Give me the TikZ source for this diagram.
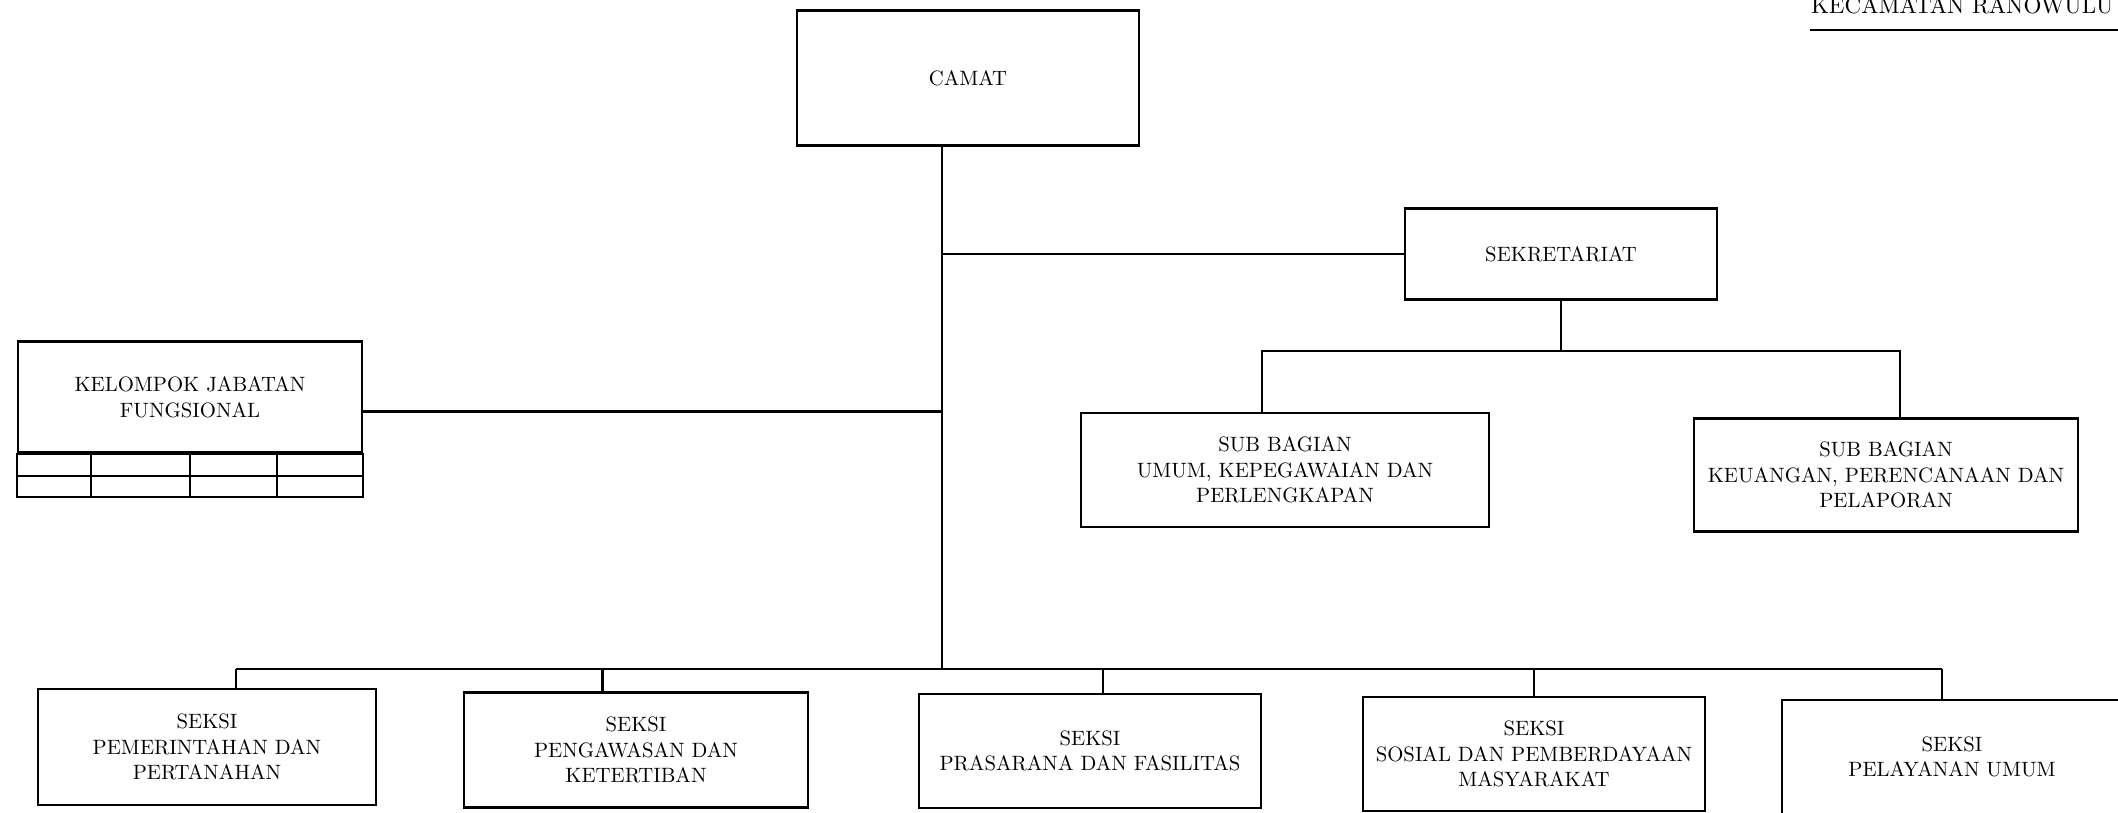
\documentclass[tikz,border=0pt]{standalone}
\usepackage{fontspec}
\setmainfont{lmroman10-regular.otf}
\begin{document}
\begin{tikzpicture}[x=0.01cm,y=-0.01cm,line width=0.6pt,
unit/.style 2 args={draw,minimum width=#1cm,minimum height=#2cm,inner sep=0pt,align=center,font=\fontsize{5.9}{7.3}\selectfont}]
\useasboundingbox (0,0) rectangle (2118,813);
\node[anchor=base west,font=\fontsize{6.55}{8}\selectfont,inner sep=0pt](kec) at (1810,14) {KECAMATAN RANOWULU};
\draw[line width=0.8pt](kec.west |- 0,30)--++(330,0);
\node[unit={3.42}{1.35}](camat) at (968,78) {CAMAT};
\node[unit={3.11}{0.91}](sek) at (1561,254) {SEKRETARIAT};
\node[unit={4.08}{1.14}](sumum) at (1285,470) {SUB BAGIAN\\UMUM, KEPEGAWAIAN DAN\\PERLENGKAPAN};
\node[unit={3.84}{1.13}](skeu) at (1886,475) {SUB BAGIAN\\KEUANGAN, PERENCANAAN DAN\\PELAPORAN};
\node[unit={3.44}{1.11}](kjf) at (190,397) {KELOMPOK JABATAN\\FUNGSIONAL};
\draw(kjf.south west)rectangle(kjf.south east |- 0,497);
\draw(kjf.south west |- 0,476)--(kjf.south east |- 0,476);
\foreach \x in {91,190,277} \draw(\x,453)--(\x,497);
\node[unit={3.38}{1.16}](b1) at (207,747) {SEKSI\\PEMERINTAHAN DAN\\PERTANAHAN};
\node[unit={3.43}{1.15}](b2) at (636,750) {SEKSI\\PENGAWASAN DAN\\KETERTIBAN};
\node[unit={3.41}{1.14}](b3) at (1090,751) {SEKSI\\PRASARANA DAN FASILITAS};
\node[unit={3.41}{1.14}](b4) at (1534,754) {SEKSI\\SOSIAL DAN PEMBERDAYAAN\\MASYARAKAT};
\node[unit={3.40}{1.14}](b5) at (1952,757) {SEKSI\\PELAYANAN UMUM};
\coordinate(bus) at (942,669);
\coordinate(sbar) at (1561,351);
\draw(camat.south -| bus)--(bus);
\draw(sek.west)--(sek.west -| bus);
\draw([yshift=-1.45mm]kjf.east)coordinate(k)--(k -| bus);
\draw(sek.south)--(sbar);
\draw([xshift=-2.3mm]sumum.north)|-(sbar)-|([xshift=1.4mm]skeu.north);
\draw([xshift=2.9mm]b1.north |- bus)--([xshift=-1mm]b5.north |- bus);
\foreach \n/\s in {b1/2.9,b2/-3.35,b3/1.3,b4/0,b5/-1}
\draw([xshift=\s mm]\n.north)--([xshift=\s mm]\n.north |- bus);
\end{tikzpicture}
\end{document}
